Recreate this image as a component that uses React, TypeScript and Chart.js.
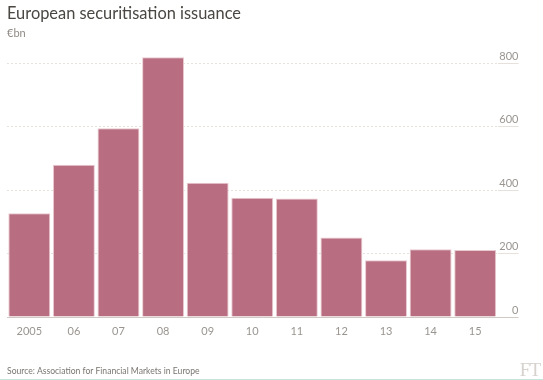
import React, { useEffect, useRef } from "react";
import { Chart, registerables } from "chart.js";

Chart.register(...registerables);

const categories = ["2005", "06", "07", "08", "09", "10", "11", "12", "13", "14", "15"];
const issuance = [327, 480, 595, 819, 423, 376, 374, 251, 179, 214, 211];
const yTicks = [0, 200, 400, 600, 800];

const TITLE = "European securitisation issuance";
const UNIT = "€bn";
const SOURCE = "Source: Association for Financial Markets in Europe";

const baselinePlugin = {
  id: "baseline",
  afterDatasetsDraw(chart: any) {
    const y = chart.scales.y;
    const area = chart.chartArea;
    const py = Math.round(y.getPixelForValue(0)) + 0.5;
    const ctx = chart.ctx;
    ctx.save();
    ctx.strokeStyle = "#cfcac4";
    ctx.lineWidth = 1;
    ctx.beginPath();
    ctx.moveTo(area.left, py);
    ctx.lineTo(y.right, py);
    ctx.stroke();
    ctx.restore();
  },
};

export default function App() {
  const ref = useRef<HTMLCanvasElement | null>(null);
  useEffect(() => {
    if (!ref.current) return;
    const chart = new Chart(ref.current, {
      type: "bar",
      data: {
        labels: categories,
        datasets: [
          {
            data: issuance,
            backgroundColor: "#b96d80",
            borderColor: "#e9c9d0",
            borderWidth: 1,
            barPercentage: 0.94,
            categoryPercentage: 1,
          },
        ],
      },
      plugins: [baselinePlugin],
      options: {
        animation: false,
        responsive: false,
        maintainAspectRatio: false,
        layout: { padding: { left: 7, right: 24.5, top: 50.6, bottom: 33 } },
        plugins: { legend: { display: false }, tooltip: { enabled: false } },
        scales: {
          x: {
            grid: { display: false, drawTicks: false },
            border: { display: false },
            ticks: {
              color: "#9a9590",
              font: { family: "Lato", size: 11 },
              padding: 8,
              maxRotation: 0,
              autoSkip: false,
            },
            afterFit: (s: any) => {
              s.height = 30;
            },
          },
          y: {
            position: "right",
            min: 0,
            max: 840,
            afterBuildTicks: (s: any) => {
              s.ticks = yTicks.map((v) => ({ value: v }));
            },
            grid: {
              color: (c: any) => (c.tick && c.tick.value === 0 ? "rgba(0,0,0,0)" : "#e6e1da"),
              lineWidth: 1,
              tickLength: 21,
              drawTicks: true,
            },
            border: { display: false, dash: [2, 2] },
            ticks: {
              color: "#9a9590",
              font: { family: "Lato", size: 11 },
              crossAlign: "far",
              labelOffset: -7,
              padding: 0,
            },
            afterFit: (s: any) => {
              s.width = 21;
            },
          },
        },
      },
    });
    return () => chart.destroy();
  }, []);

  return (
    <div
      style={{
        position: "fixed",
        left: 0,
        top: 0,
        width: 543,
        height: 380,
        background: "#ffffff",
        overflow: "hidden",
      }}
    >
      <canvas ref={ref} width={543} height={380} style={{ position: "absolute", left: 0, top: 0 }} />
      <div
        style={{
          position: "absolute",
          left: 7,
          top: 3,
          fontFamily: "Lato",
          fontSize: 16.4,
          color: "#4a4743",
          whiteSpace: "nowrap",
        }}
      >
        {TITLE}
      </div>
      <div
        style={{
          position: "absolute",
          left: 7,
          top: 26,
          fontFamily: "Lato",
          fontSize: 11,
          color: "#8f8a85",
        }}
      >
        {UNIT}
      </div>
      <div
        style={{
          position: "absolute",
          left: 7,
          top: 366,
          fontFamily: "Lato",
          fontSize: 8.6,
          color: "#7a7570",
          whiteSpace: "nowrap",
        }}
      >
        {SOURCE}
      </div>
      <div
        style={{
          position: "absolute",
          right: 3,
          top: 359,
          fontFamily: "'Liberation Serif', serif",
          fontSize: 19,
          color: "#d6d2cd",
          letterSpacing: -1,
        }}
      >
        FT
      </div>
      <div
        style={{
          position: "absolute",
          left: 0,
          top: 379,
          width: 543,
          height: 1,
          background: "#c6e6dc",
        }}
      />
    </div>
  );
}
